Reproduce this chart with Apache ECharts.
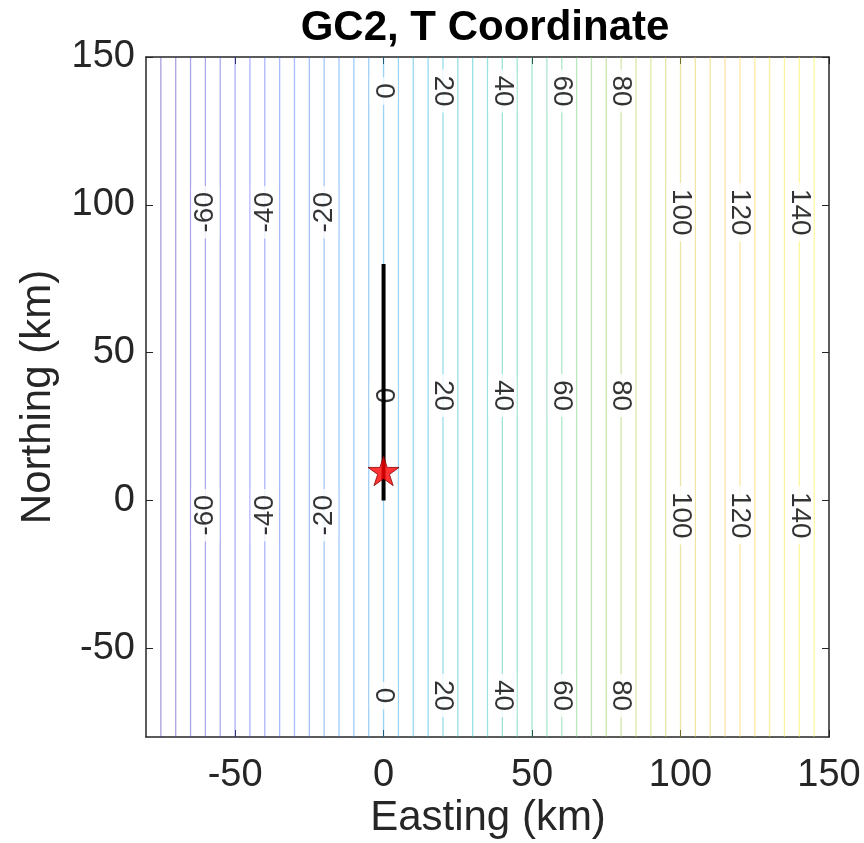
<!DOCTYPE html>
<html>
<head>
<meta charset="utf-8">
<script src="https://cdn.jsdelivr.net/npm/echarts@6/dist/echarts.min.js"></script>
<style>
  html, body { margin: 0; padding: 0; background: #fff; }
  #chart { width: 864px; height: 843px; }
</style>
</head>
<body>
<div id="chart"></div>
<script>
// Contour levels of the GC2 T coordinate (km); the field depends on easting only
const contourLevels = [-75, -70, -65, -60, -55, -50, -45, -40, -35, -30, -25, -20, -15, -10, -5,
  0, 5, 10, 15, 20, 25, 30, 35, 40, 45, 50, 55, 60, 65, 70, 75, 80, 85, 90, 95,
  100, 105, 110, 115, 120, 125, 130, 135, 140, 145];

// Labelled contours and the northing at which each row of labels sits
const labelsCentral = [0, 20, 40, 60, 80];
const labelsNegative = [-60, -40, -20];
const labelsOuter = [100, 120, 140];
const centralRowsNorthing = [138.5, 35.5, -66];
const sideRowsNorthing = [97.5, -5];

// Rupture trace and hypocentre
const faultTrace = [[0, 0], [0, 80]];
const hypocentre = [[0, 10]];

// Axis extents and ticks
const eastingRange = [-80, 150];
const northingRange = [-80, 150];
const eastingTicks = [-50, 0, 50, 100, 150];
const northingTicks = [-50, 0, 50, 100, 150];

// Parula-like colormap stops
const parula = [
  [0.2422, 0.1504, 0.6603], [0.2810, 0.3228, 0.9579], [0.1786, 0.5289, 0.9682],
  [0.0689, 0.6948, 0.8394], [0.2161, 0.7843, 0.5923], [0.6720, 0.7793, 0.2227],
  [0.9970, 0.7659, 0.2199], [0.9769, 0.9839, 0.0805]
];
function parulaColor(t, alpha) {
  t = Math.max(0, Math.min(1, t));
  const s = t * (parula.length - 1);
  const i = Math.min(parula.length - 2, Math.floor(s));
  const f = s - i;
  const c = parula[i].map((v, k) => Math.round(255 * (v + (parula[i + 1][k] - v) * f)));
  return 'rgba(' + c[0] + ',' + c[1] + ',' + c[2] + ',' + alpha + ')';
}

const FONT = "'Liberation Sans', Helvetica, Arial, sans-serif";
const AXIS_COLOR = '#262626';
const cMin = eastingRange[0], cMax = eastingRange[1];

const series = [];

// Contour lines (vertical iso-lines of T)
contourLevels.forEach(v => {
  series.push({
    type: 'line',
    silent: true,
    symbol: 'none',
    z: 1,
    lineStyle: { width: 1.3, color: parulaColor((v - cMin) / (cMax - cMin), 0.45) },
    data: [[v, northingRange[0]], [v, northingRange[1]]]
  });
});

// Contour labels: positive values read downward, negative values upward
function labelPoints(levels, rows) {
  const pts = [];
  rows.forEach(y => levels.forEach(v => pts.push([v, y])));
  return pts;
}
function labelSeries(points, rotate) {
  return {
    type: 'scatter',
    silent: true,
    symbolSize: 0,
    z: 5,
    data: points,
    label: {
      show: true,
      position: 'inside',
      rotate: rotate,
      formatter: p => String(p.value[0]),
      fontFamily: FONT,
      fontSize: 28,
      color: '#000',
      backgroundColor: '#fff',
      padding: [0, 6]
    }
  };
}
series.push(labelSeries(labelPoints(labelsCentral, centralRowsNorthing).concat(
  labelPoints(labelsOuter, sideRowsNorthing)), -90));
series.push(labelSeries(labelPoints(labelsNegative, sideRowsNorthing), 90));

// Rupture trace
series.push({
  type: 'line',
  silent: true,
  symbol: 'none',
  z: 6,
  lineStyle: { width: 4, color: '#000' },
  data: faultTrace
});

// Hypocentre star
series.push({
  type: 'scatter',
  silent: true,
  z: 7,
  symbol: 'path://M0,-100 L22.45,-30.9 L95.1,-30.9 L36.3,11.8 L58.8,80.9 L0,38.2 L-58.8,80.9 L-36.3,11.8 L-95.1,-30.9 L-22.45,-30.9 Z',
  symbolKeepAspect: true,
  symbolSize: 31,
  itemStyle: { color: '#ff0000', borderColor: '#8a0000', borderWidth: 1 },
  data: hypocentre
});

function axisBase(extra) {
  return Object.assign({
    type: 'value',
    axisLine: { show: true, onZero: false, lineStyle: { color: AXIS_COLOR, width: 1.5 } },
    splitLine: { show: false }
  }, extra);
}
function ticks(values) {
  return { show: true, inside: true, length: 7, customValues: values, lineStyle: { color: AXIS_COLOR } };
}

const chart = echarts.init(document.getElementById('chart'), null, { renderer: 'canvas' });
chart.setOption({
  animation: false,
  backgroundColor: '#fff',
  grid: { left: 146, right: 35, top: 57, bottom: 106, containLabel: false },
  xAxis: [
    axisBase({
      position: 'bottom', min: eastingRange[0], max: eastingRange[1],
      axisTick: ticks(eastingTicks),
      axisLabel: { customValues: eastingTicks, fontFamily: FONT, fontSize: 38, color: AXIS_COLOR, margin: 20 }
    }),
    axisBase({
      position: 'top', min: eastingRange[0], max: eastingRange[1],
      axisTick: ticks(eastingTicks),
      axisLabel: { show: false }
    })
  ],
  yAxis: [
    axisBase({
      position: 'left', min: northingRange[0], max: northingRange[1],
      axisTick: ticks(northingTicks),
      axisLabel: { customValues: northingTicks, fontFamily: FONT, fontSize: 38, color: AXIS_COLOR, margin: 11 }
    }),
    axisBase({
      position: 'right', min: northingRange[0], max: northingRange[1],
      axisTick: ticks(northingTicks),
      axisLabel: { show: false }
    })
  ],
  graphic: [
    {
      type: 'text', x: 485, y: 28, silent: true,
      style: { text: 'GC2, T Coordinate', fontFamily: FONT, fontSize: 42, fontWeight: 'bold', fill: '#000', align: 'center', verticalAlign: 'middle' }
    },
    {
      type: 'text', x: 488, y: 818, silent: true,
      style: { text: 'Easting (km)', fontFamily: FONT, fontSize: 42, fill: AXIS_COLOR, align: 'center', verticalAlign: 'middle' }
    },
    {
      type: 'text', x: 38, y: 397, rotation: Math.PI / 2, silent: true,
      style: { text: 'Northing (km)', fontFamily: FONT, fontSize: 42, fill: AXIS_COLOR, align: 'center', verticalAlign: 'middle' }
    }
  ],
  series: series
});
</script>
</body>
</html>
